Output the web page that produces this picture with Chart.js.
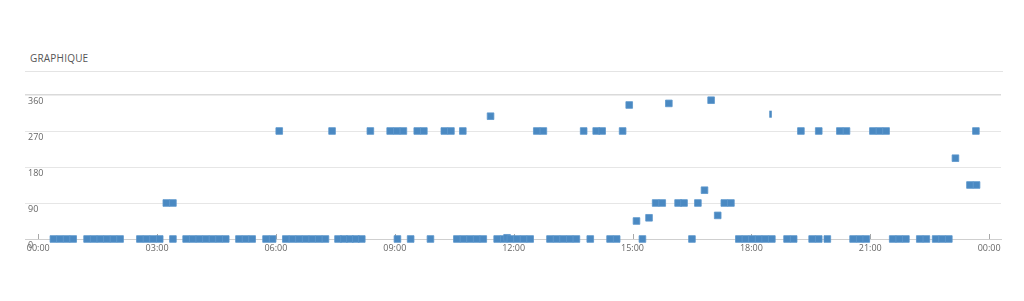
<!DOCTYPE html>
<html>
<head>
<meta charset="utf-8">
<script src="https://cdn.jsdelivr.net/npm/chart.js@4/dist/chart.umd.min.js"></script>
<style>
  html, body { margin:0; padding:0; background:#fff; width:1024px; height:301px; overflow:hidden }
  .title { position:absolute; left:30px; top:51px; font-family:'Open Sans', sans-serif; font-size:10px; color:#555; letter-spacing:.2px }
  .rule { position:absolute; left:25px; top:71px; width:978px; height:0; border-top:1px solid #e4e4e4 }
  #wrap { position:absolute; left:0; top:80px; width:1024px; height:190px }
</style>
</head>
<body>
<div class="title">GRAPHIQUE</div>
<div class="rule"></div>
<div id="wrap"><canvas id="chart" width="1024" height="190"></canvas></div>
<script>
// minutes since midnight, direction in degrees
const times = [
  23, 33, 43, 53, 74, 84, 94, 104, 114, 124, 154, 164, 174, 184, 194, 204, 204,
  224, 234, 244, 254, 264, 274, 284, 304, 314, 324, 345, 355, 365,
  375, 385, 395, 405, 415, 425, 435, 445, 454, 463, 472, 481, 490,
  503, 533, 543, 544, 553, 564, 574, 584, 594, 615, 625, 634, 643, 644,
  654, 664, 674, 685, 695, 705, 710, 715, 725, 735, 745, 755, 765,
  775, 785, 795, 805, 815, 826, 836, 845, 854, 866, 876, 885, 895,
  906, 915, 925, 935, 945, 955, 969, 978, 990, 999, 1009, 1019, 1029,
  1039, 1049, 1061, 1071, 1081, 1091, 1101, 1111, 1134, 1144, 1155,
  1172, 1182, 1182, 1195, 1214, 1224, 1234, 1244, 1254, 1264, 1274, 1284,
  1294, 1304, 1314, 1335, 1345, 1359, 1369, 1379, 1389, 1411, 1420, 1421
]
const directions = [
  0, 0, 0, 0, 0, 0, 0, 0, 0, 0, 0, 0, 0, 0, 90, 90, 0,
  0, 0, 0, 0, 0, 0, 0, 0, 0, 0, 0, 0, 270,
  0, 0, 0, 0, 0, 0, 0, 270, 0, 0, 0, 0, 0,
  270, 270, 270, 0, 270, 0, 270, 270, 0, 270, 270, 0, 270, 0,
  0, 0, 0, 307, 0, 0, 3, 0, 0, 0, 0, 270, 270,
  0, 0, 0, 0, 0, 270, 0, 270, 270, 0, 0, 270, 335,
  45, 0, 53, 90, 90, 339, 90, 90, 0, 90, 122, 347, 59,
  90, 90, 0, 0, 0, 0, 0, 0, 0, 0, 270,
  0, 0, 270, 0, 270, 270, 0, 0, 0, 270, 270, 270,
  0, 0, 0, 0, 0, 0, 0, 0, 202, 135, 270, 135
]
// odd thin mark near 18:30
const thinTimes = [1109]
const thinDirections = [312]

const xTicks = [0, 180, 360, 540, 720, 900, 1080, 1260, 1440]
const yTicks = [0, 90, 180, 270, 360]

const pad = n => String(n).padStart(2, '0')
const fmtTime = v => pad(Math.floor(v / 60) % 24) + ':' + pad(v % 60)

const blue = '#4a89c2'
const tickFont = { family: 'Open Sans', size: 9 }

const upTicks = {
  id: 'upTicks',
  beforeDatasetsDraw(chart) {
    const x = chart.scales.x, ctx = chart.ctx
    ctx.save()
    ctx.strokeStyle = '#a8a8a8'
    ctx.lineWidth = 1
    xTicks.forEach(v => {
      const px = Math.round(x.getPixelForValue(v)) + 0.5
      ctx.beginPath()
      ctx.moveTo(px, x.top - 5)
      ctx.lineTo(px, x.top)
      ctx.stroke()
    })
    ctx.restore()
  }
}

new Chart(document.getElementById('chart').getContext('2d'), {
  type: 'scatter',
  data: {
    datasets: [
      {
        data: times.map((t, i) => ({ x: t, y: directions[i] })),
        pointStyle: 'rect', pointRadius: 4.7, pointHoverRadius: 4.7,
        backgroundColor: blue, borderColor: '#5b96cb', borderWidth: 0.8, clip: false
      },
      {
        data: thinTimes.map((t, i) => ({ x: t, y: thinDirections[i] })),
        pointStyle: 'line', rotation: 90, pointRadius: 3.5,
        borderColor: blue, borderWidth: 2.5, clip: false
      }
    ]
  },
  options: {
    responsive: false, animation: false,
    layout: { padding: { left: 25, right: 23, top: 15, bottom: 11 } },
    plugins: { legend: { display: false }, tooltip: { enabled: false } },
    scales: {
      x: {
        type: 'linear', min: -20, max: 1458,
        afterBuildTicks: s => { s.ticks = xTicks.map(v => ({ value: v })) },
        afterFit: s => { s.height = 20 },
        grid: { display: true, drawOnChartArea: false, drawTicks: false },
        border: { display: true, color: '#cfcfcf' },
        ticks: { callback: v => fmtTime(v), color: '#666', font: tickFont, padding: 4, maxRotation: 0, autoSkip: false }
      },
      y: {
        min: 0, max: 360,
        afterBuildTicks: s => { s.ticks = yTicks.map(v => ({ value: v })) },
        afterFit: s => { s.width = 0 },
        grid: {
          drawTicks: false,
          color: c => c.tick && c.tick.value === 360 ? '#dadada' : '#e6e6e6',
          lineWidth: c => c.tick && c.tick.value === 360 ? 1.5 : 1
        },
        border: { display: false },
        ticks: { mirror: true, padding: 3, labelOffset: 6, color: '#666', font: tickFont }
      }
    }
  },
  plugins: [upTicks]
})
</script>
</body>
</html>
